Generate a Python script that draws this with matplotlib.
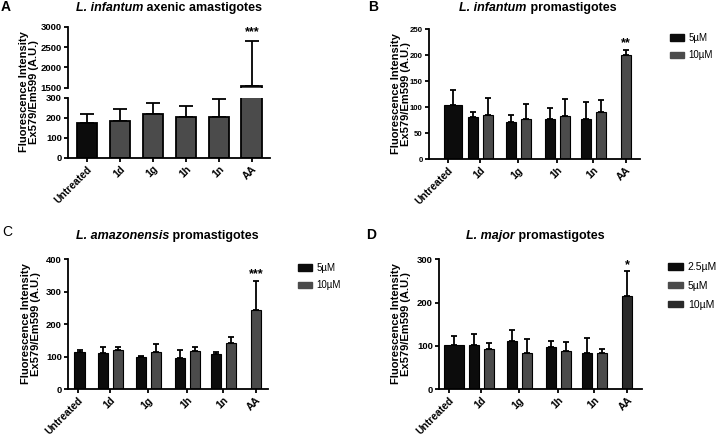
import numpy as np
import matplotlib
matplotlib.use('Agg')
from matplotlib import pyplot as plt
from matplotlib.patches import Patch

plt.rcParams['font.family'] = ['Liberation Sans', 'DejaVu Sans']

categories = ['Untreated', '1d', '1g', '1h', '1n', 'AA']

# A - L. infantum axenic amastigotes (one series)
a_mean = [175, 183, 218, 205, 205, 1549]
a_sd = [45, 62, 54, 55, 87, 1098]

# B - L. infantum promastigotes
b_5_mean = [104, 81, 71, 78, 77]      # Untreated, 1d, 1g, 1h, 1n
b_5_sd = [29, 9, 13, 20, 33]
b_10_mean = [85, 77, 83, 90, 200]     # 1d, 1g, 1h, 1n, AA
b_10_sd = [33, 29, 32, 23, 10]

# C - L. amazonensis promastigotes
c_5_mean = [113, 111, 98, 95, 107]
c_5_sd = [8, 17, 4, 24, 8]
c_10_mean = [119, 113, 118, 141, 244]
c_10_sd = [12, 26, 13, 19, 90]

# D - L. major promastigotes
d_25_mean = [102, 101, 112, 97, 83]   # Untreated, 1d, 1g, 1h, 1n
d_25_sd = [20, 27, 25, 15, 35]
d_5_mean = [92, 83, 88, 83]           # 1d, 1g, 1h, 1n
d_5_sd = [14, 32, 20, 9]
d_10_mean = [214]                     # AA
d_10_sd = [58]

W, H = 720, 436
BLACK = '#0c0c0c'
GRAY = '#4b4b4b'
DARK = '#2a2a2a'


def px_axes(left, right, top, bottom):
    return fig.add_axes([left / W, 1 - bottom / H, (right - left) / W, (bottom - top) / H])


def style(ax, bottom=True, ysize=6.8):
    for s in ['top', 'right']:
        ax.spines[s].set_visible(False)
    ax.spines['left'].set_linewidth(1.3)
    ax.spines['bottom'].set_linewidth(1.3)
    ax.tick_params(direction='out', length=3, width=1.3, pad=1.5)
    ax.tick_params(axis='y', labelsize=ysize)
    for lab in ax.get_yticklabels():
        lab.set_fontweight('bold')
    if not bottom:
        ax.spines['bottom'].set_visible(False)
        ax.tick_params(axis='x', bottom=False, labelbottom=False)


def bars(ax, x, mean, sd, width, color, capsize=2.5, lw=0.8):
    ax.bar(x, mean, width, color=color, edgecolor='black', linewidth=lw, zorder=2)
    ax.errorbar(x, mean, yerr=[np.zeros(len(mean)), sd], fmt='none', ecolor='black',
                elinewidth=1.3, capsize=capsize, capthick=1.3, zorder=1)


def xcats(ax, pos):
    ax.set_xticks(pos)
    ax.set_xticklabels(categories, rotation=45, ha='right', rotation_mode='anchor',
                       fontweight='bold', fontsize=7.4)


def title(cx, cy, italic, rest):
    r = fig.canvas.get_renderer()
    y = 1 - cy / H
    t1 = fig.text(0, y, italic, fontsize=9, fontweight='bold', fontstyle='italic', va='center')
    t2 = fig.text(0, y, rest, fontsize=9, fontweight='bold', va='center')
    w1 = t1.get_window_extent(r).width
    w2 = t2.get_window_extent(r).width
    x0 = cx - (w1 + w2) / 2
    t1.set_x(x0 / W)
    t2.set_x((x0 + w1) / W)


def ylab(cx, cy):
    fig.text(cx / W, 1 - cy / H, 'Fluorescence Intensity\nEx579/Em599 (A.U.)', rotation=90,
             ha='center', va='center', multialignment='center', fontsize=8,
             fontweight='bold', linespacing=1.1)


def star(ax, x, y, s):
    ax.annotate(s, (x, y), xytext=(0, 0.5), textcoords='offset points', ha='center',
                va='bottom', fontsize=9, fontweight='bold', annotation_clip=False)


fig = plt.figure(figsize=(W / 100, H / 100), dpi=100)
fig.canvas.draw()

# ---------------- A (broken axis) ----------------
xa = np.arange(6)
colors_a = [BLACK] + [GRAY] * 5
axl = px_axes(68, 270, 97.7, 157.7)
axu = px_axes(68, 270, 26.7, 87.7)
for ax in (axl, axu):
    bars(ax, xa, a_mean, a_sd, 0.63, colors_a, capsize=5, lw=1.3)
    ax.set_xlim(-0.58, 5.55)
axl.set_ylim(0, 300)
axl.set_yticks([0, 100, 200, 300])
axu.set_ylim(1500, 3000)
axu.set_yticks([1500, 2000, 2500, 3000])
style(axl)
style(axu, bottom=False)
xcats(axl, xa)
star(axu, 5, a_mean[5] + a_sd[5] + 60, '***')
ylab(29, 92)
title(169, 8, 'L. infantum', ' axenic amastigotes')

# group tick positions used in B, C, D
gx = np.array([0, 32, 70, 109, 145, 178]) / 32

# ---------------- B ----------------
axb = px_axes(429, 640, 29.3, 159)
bars(axb, [gx[0] + 0.16], b_5_mean[:1], b_5_sd[:1], 0.59, BLACK)
bars(axb, gx[1:5] - 0.22, b_5_mean[1:], b_5_sd[1:], 0.33, BLACK)
bars(axb, gx[1:5] + 0.25, b_10_mean[:4], b_10_sd[:4], 0.33, GRAY)
bars(axb, gx[5:], b_10_mean[4:], b_10_sd[4:], 0.33, GRAY)
axb.set_xlim(-0.59, 6.0)
axb.set_ylim(0, 250)
axb.set_yticks(range(0, 251, 50))
style(axb, ysize=5.6)
xcats(axb, gx)
star(axb, gx[5], b_10_mean[4] + b_10_sd[4], '**')
ylab(401, 94)
title(538, 8, 'L. infantum', ' promastigotes')
axb.legend([Patch(color=BLACK), Patch(color=GRAY)], ['5µM', '10µM'], loc='upper left',
           bbox_to_anchor=(670 / W, 1 - 33 / H), bbox_transform=fig.transFigure,
           frameon=False, fontsize=7, handlelength=1.4, handleheight=0.6,
           handletextpad=0.5, labelspacing=0.75, borderpad=0, borderaxespad=0)

# ---------------- C ----------------
axc = px_axes(68, 268, 259.3, 389)
bars(axc, [gx[0] + 0.05], c_5_mean[:1], c_5_sd[:1], 0.34, BLACK)
bars(axc, gx[1:5] - 0.22, c_5_mean[1:], c_5_sd[1:], 0.33, BLACK)
bars(axc, gx[1:5] + 0.25, c_10_mean[:4], c_10_sd[:4], 0.33, GRAY)
bars(axc, gx[5:], c_10_mean[4:], c_10_sd[4:], 0.33, GRAY)
axc.set_xlim(-0.31, 5.94)
axc.set_ylim(0, 400)
axc.set_yticks(range(0, 401, 100))
style(axc)
xcats(axc, gx)
star(axc, gx[5], c_10_mean[4] + c_10_sd[4], '***')
ylab(31, 324)
title(167, 236, 'L. amazonensis', ' promastigotes')
axc.legend([Patch(color=BLACK), Patch(color=GRAY)], ['5µM', '10µM'], loc='upper left',
           bbox_to_anchor=(298 / W, 1 - 263 / H), bbox_transform=fig.transFigure,
           frameon=False, fontsize=7, handlelength=1.4, handleheight=0.6,
           handletextpad=0.5, labelspacing=0.75, borderpad=0, borderaxespad=0)

# ---------------- D ----------------
axd = px_axes(439, 642, 259.3, 389)
bars(axd, [gx[0] + 0.16], d_25_mean[:1], d_25_sd[:1], 0.62, BLACK)
bars(axd, gx[1:5] - 0.22, d_25_mean[1:], d_25_sd[1:], 0.33, BLACK)
bars(axd, gx[1:5] + 0.25, d_5_mean, d_5_sd, 0.33, GRAY)
bars(axd, gx[5:], d_10_mean, d_10_sd, 0.33, DARK)
axd.set_xlim(-0.31, 6.03)
axd.set_ylim(0, 300)
axd.set_yticks(range(0, 301, 100))
style(axd)
xcats(axd, gx)
star(axd, gx[5], d_10_mean[0] + d_10_sd[0], '*')
ylab(401, 324)
title(535, 236, 'L. major', ' promastigotes')
axd.legend([Patch(color=BLACK), Patch(color=GRAY), Patch(color=DARK)], ['2.5µM', '5µM', '10µM'],
           loc='upper left', bbox_to_anchor=(668 / W, 1 - 262 / H), bbox_transform=fig.transFigure,
           frameon=False, fontsize=7.5, handlelength=1.4, handleheight=0.6,
           handletextpad=0.5, labelspacing=0.85, borderpad=0, borderaxespad=0)

# panel letters
fig.text(1 / W, 1 - 7 / H, 'A', fontsize=10, fontweight='bold', va='center')
fig.text(368 / W, 1 - 7 / H, 'B', fontsize=10, fontweight='bold', va='center')
fig.text(2 / W, 1 - 232 / H, 'C', fontsize=10, va='center')
fig.text(366 / W, 1 - 235 / H, 'D', fontsize=10, fontweight='bold', va='center')

fig.savefig('out.png', dpi=100)
